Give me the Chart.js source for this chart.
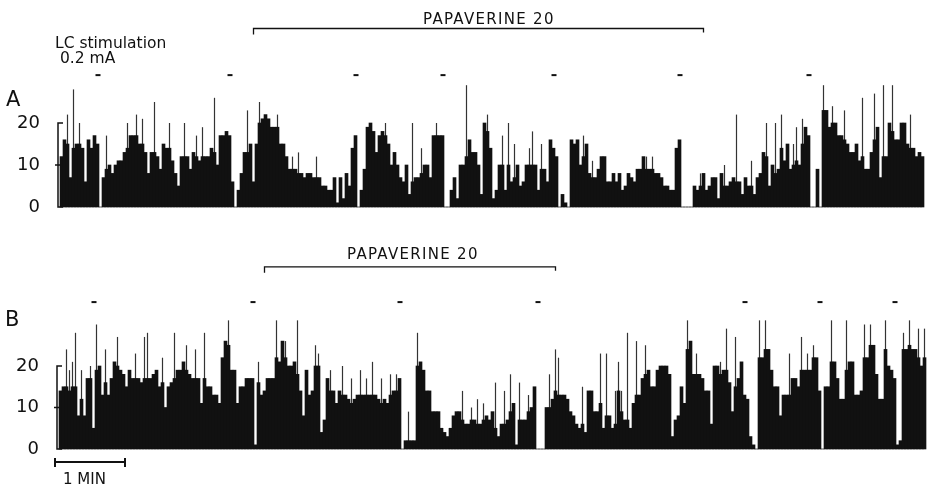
<!DOCTYPE html>
<html>
<head>
<meta charset="utf-8">
<script src="https://cdn.jsdelivr.net/npm/chart.js@4.4.1/dist/chart.umd.min.js"></script>
<style>
  body { margin: 0; background: #fff; width: 927px; height: 488px; position: relative; overflow: hidden; font-family: "DejaVu Sans", sans-serif; color: #111; }
  .panel { position: absolute; left: 0; width: 927px; }
  #wrapA { top: 0; height: 240px; }
  #wrapB { top: 240px; height: 248px; }
  .lbl { position: absolute; white-space: nowrap; line-height: 1; }
  .big { font-size: 21px; }
  .note { font-size: 15px; }
  .drug { font-size: 15px; letter-spacing: 1.3px; }
  #scalebar { position: absolute; left: 54px; top: 461px; width: 72px; height: 0; border-top: 2px solid #111; }
  #scalebar:before, #scalebar:after { content: ""; position: absolute; top: -5px; width: 2px; height: 9px; background: #111; }
  #scalebar:before { left: 0; }
  #scalebar:after { right: 0; }
</style>
</head>
<body>
<div class="panel" id="wrapA"><canvas id="chartA" width="927" height="240"></canvas></div>
<div class="panel" id="wrapB"><canvas id="chartB" width="927" height="248"></canvas></div>

<div class="lbl big" style="left:6px;top:89px">A</div>
<div class="lbl big" style="left:5px;top:309px">B</div>
<div class="lbl note" style="left:55px;top:36px;font-size:15.5px">LC stimulation</div>
<div class="lbl note" style="left:60px;top:51px;font-size:15.5px">0.2 mA</div>
<div class="lbl drug" style="left:423px;top:12px">PAPAVERINE 20</div>
<div class="lbl drug" style="left:347px;top:247px">PAPAVERINE 20</div>
<div id="scalebar"></div>
<div class="lbl note" style="left:63px;top:472px">1 MIN</div>

<script>
// spikes per 2.5 s bin (body of each burst)
const ratesA = [
  12, 16, 15, 7, 14, 15, 15, 14, 6, 16,
  14, 17, 15, 0, 7, 9, 10, 8, 10, 11,
  11, 13, 14, 17, 17, 17, 15, 15, 13, 8,
  13, 13, 12, 9, 15, 14, 14, 11, 8, 5,
  12, 12, 12, 9, 13, 12, 11, 12, 12, 12,
  14, 13, 10, 17, 17, 18, 17, 6, 0, 4,
  8, 13, 13, 15, 6, 15, 20, 21, 22, 21,
  19, 19, 19, 15, 15, 12, 9, 9, 9, 8,
  8, 7, 8, 8, 7, 7, 7, 5, 5, 4,
  4, 7, 1, 7, 2, 8, 5, 14, 17, 0,
  4, 9, 19, 20, 18, 13, 17, 18, 17, 15,
  10, 13, 10, 7, 6, 10, 3, 6, 7, 7,
  8, 10, 10, 7, 17, 17, 17, 17, 0, 0,
  4, 7, 2, 10, 10, 12, 16, 13, 13, 10,
  3, 20, 18, 14, 2, 4, 10, 10, 4, 10,
  6, 7, 10, 5, 6, 10, 10, 10, 10, 4,
  9, 9, 6, 16, 14, 12, 0, 3, 1, 0,
  16, 15, 16, 10, 12, 15, 8, 7, 7, 9,
  12, 12, 6, 6, 8, 6, 8, 4, 5, 8,
  7, 6, 9, 9, 12, 9, 9, 9, 8, 8,
  7, 5, 5, 4, 4, 14, 16, 0, 0, 0,
  0, 5, 4, 5, 8, 4, 5, 7, 7, 2,
  8, 5, 5, 6, 7, 6, 6, 3, 7, 5,
  5, 3, 7, 8, 13, 12, 5, 10, 8, 9,
  14, 11, 15, 9, 10, 11, 10, 15, 19, 17,
  0, 0, 9, 0, 23, 23, 19, 20, 20, 17,
  17, 16, 15, 13, 13, 15, 11, 12, 9, 9,
  13, 16, 19, 7, 12, 12, 20, 18, 16, 16,
  20, 20, 15, 14, 14, 12, 13, 12
];
const spikeBinsA = [2, 4, 6, 15, 22, 25, 27, 31, 36, 41, 45, 47, 51, 62, 66, 72, 77, 79, 85, 108,
  117, 120, 125, 135, 142, 147, 149, 151, 156, 157, 160, 174, 177, 195, 197, 213, 221, 225, 230, 235,
  238, 240, 244, 245, 247, 254, 257, 261, 267, 271, 274, 277, 283];
const spikeTopsA = [22, 28, 20, 17, 20, 22, 21, 25, 20, 20, 17, 19, 26, 23, 25, 22, 12, 13, 12, 20,
  20, 14, 20, 29, 22, 17, 20, 15, 14, 18, 15, 17, 11, 12, 12, 8, 10, 22, 11, 20,
  20, 22, 15, 19, 21, 29, 24, 23, 26, 27, 29, 29, 22];

const ratesB = [
  14, 15, 15, 14, 15, 15, 8, 12, 8, 17,
  17, 5, 19, 20, 13, 16, 13, 17, 21, 20,
  19, 18, 15, 19, 17, 17, 17, 16, 17, 17,
  17, 18, 19, 15, 16, 10, 15, 16, 17, 19,
  19, 21, 19, 18, 17, 17, 17, 11, 17, 15,
  15, 13, 13, 11, 22, 26, 25, 19, 19, 11,
  15, 15, 17, 17, 17, 1, 16, 13, 14, 17,
  17, 17, 22, 21, 26, 22, 20, 20, 21, 18,
  14, 8, 19, 13, 14, 20, 20, 4, 7, 17,
  14, 14, 11, 14, 13, 13, 12, 11, 12, 13,
  13, 13, 13, 13, 13, 13, 12, 11, 12, 11,
  13, 14, 14, 17, 0, 2, 2, 2, 2, 20,
  21, 19, 14, 14, 9, 9, 9, 5, 4, 3,
  5, 8, 9, 9, 7, 6, 6, 7, 7, 6,
  6, 7, 8, 7, 9, 5, 3, 6, 6, 7,
  9, 11, 1, 7, 7, 7, 9, 10, 15, 0,
  0, 0, 10, 10, 12, 14, 13, 13, 13, 12,
  9, 8, 6, 5, 6, 4, 14, 14, 9, 9,
  11, 5, 8, 8, 5, 6, 14, 9, 7, 7,
  5, 11, 13, 13, 17, 18, 19, 15, 15, 19,
  20, 20, 20, 18, 3, 7, 8, 15, 11, 24,
  26, 18, 18, 18, 17, 14, 14, 6, 20, 20,
  18, 19, 19, 16, 9, 15, 17, 21, 13, 12,
  3, 1, 0, 22, 22, 24, 24, 19, 15, 15,
  8, 13, 13, 13, 17, 17, 15, 19, 19, 19,
  19, 22, 22, 14, 0, 15, 15, 21, 21, 17,
  12, 12, 19, 21, 21, 13, 13, 14, 22, 22,
  25, 25, 18, 12, 12, 24, 20, 19, 17, 1,
  2, 24, 24, 25, 24, 24, 22, 20, 22
];
const spikeBinsB = [2, 3, 4, 5, 7, 10, 12, 15, 19, 25, 28, 29, 34, 38, 42, 45, 48, 56, 66, 72,
  75, 79, 85, 86, 90, 94, 97, 100, 102, 104, 107, 110, 112, 116, 119, 134, 137, 139, 141, 145,
  148, 150, 153, 156, 163, 165, 166, 174, 180, 182, 185, 186, 187, 189, 192, 195, 209, 212, 220, 222,
  225, 233, 235, 243, 247, 249, 251, 257, 262, 268, 270, 275, 281, 283, 286, 288];
const spikeTopsB = [24, 19, 21, 28, 19, 20, 30, 24, 27, 23, 27, 28, 22, 28, 25, 24, 28, 31, 21, 31,
  26, 31, 25, 23, 19, 20, 17, 19, 17, 21, 17, 18, 18, 9, 28, 14, 10, 12, 11, 16,
  14, 18, 16, 13, 18, 24, 22, 15, 23, 23, 14, 21, 14, 28, 26, 25, 31, 23, 21, 29,
  27, 31, 31, 23, 27, 23, 25, 31, 31, 30, 30, 31, 28, 31, 29, 29];

const yTicks = [0, 10, 20];
// stimulation marks and papaverine period, as bin numbers
const stimA = [12, 56, 98, 127, 164, 206, 249];
const stimB = [11, 64, 113, 159, 228, 253, 278];
const drugA = [64, 214];
const drugB = [68, 165];

const ink = "#111";

const bracketPlugin = {
  id: "bracket",
  afterDatasetsDraw(chart, args, opts) {
    const { ctx, chartArea } = chart;
    const x = chart.scales.x, y = chart.scales.y;
    ctx.save();
    ctx.strokeStyle = ink;
    ctx.fillStyle = ink;
    ctx.lineWidth = 1.5;
    // y axis bracket 0..20
    const ax = chartArea.left - 2;
    const y0 = y.getPixelForValue(0), y10 = y.getPixelForValue(10), y20 = y.getPixelForValue(20);
    ctx.beginPath();
    ctx.moveTo(ax + 5, y20); ctx.lineTo(ax, y20); ctx.lineTo(ax, y0); ctx.lineTo(ax + 5, y0);
    ctx.moveTo(ax - 3, y10); ctx.lineTo(ax + 3, y10);
    ctx.stroke();
    // stimulation dashes
    opts.stim.forEach(i => {
      const px = x.getPixelForValue(i);
      const py = y.getPixelForValue(opts.stimLevel);
      ctx.fillRect(px - 2, py - 1, 5, 2);
    });
    // drug bracket
    const x1 = x.getPixelForValue(opts.drug[0]), x2 = x.getPixelForValue(opts.drug[1]);
    const dy = y.getPixelForValue(opts.drugLevel);
    ctx.lineWidth = 1.3;
    ctx.beginPath();
    ctx.moveTo(x1, dy + 6); ctx.lineTo(x1, dy); ctx.lineTo(x2, dy); ctx.lineTo(x2, dy + 4);
    ctx.stroke();
    ctx.restore();
  }
};

function makeChart(id, rates, spikeBins, spikeTops, pad, axisWidth, extra) {
  const labels = rates.map((_, i) => i * 2.5);
  const spikes = rates.map(() => null);
  spikeBins.forEach((b, k) => { spikes[b] = spikeTops[k]; });
  return new Chart(document.getElementById(id), {
    type: "bar",
    data: {
      labels,
      datasets: [{
        data: rates,
        backgroundColor: ink,
        borderWidth: 0,
        barPercentage: 1,
        categoryPercentage: 1,
        grouped: false,
        clip: false
      }, {
        data: spikes,
        backgroundColor: "#333",
        borderWidth: 0,
        barPercentage: 0.4,
        categoryPercentage: 1,
        grouped: false,
        clip: false
      }]
    },
    options: {
      responsive: false,
      animation: false,
      devicePixelRatio: 1,
      layout: { padding: pad },
      plugins: { legend: { display: false }, tooltip: { enabled: false }, bracket: extra },
      scales: {
        x: { display: false },
        y: {
          min: 0, max: 20,
          afterFit: s => { s.width = axisWidth; },
          afterBuildTicks: s => { s.ticks = yTicks.map(v => ({ value: v })); },
          grid: { display: false },
          border: { display: false },
          ticks: { color: ink, padding: 12, font: { family: "DejaVu Sans", size: 18 } }
        }
      }
    },
    plugins: [bracketPlugin]
  });
}

makeChart("chartA", ratesA, spikeBinsA, spikeTopsA, { top: 123, bottom: 33, left: 0, right: 3 }, 60,
  { stim: stimA, stimLevel: 31.4, drug: drugA, drugLevel: 42.5 });
makeChart("chartB", ratesB, spikeBinsB, spikeTopsB, { top: 126, bottom: 39, left: 0, right: 1 }, 59,
  { stim: stimB, stimLevel: 35.4, drug: drugB, drugLevel: 43.9 });
</script>
</body>
</html>
